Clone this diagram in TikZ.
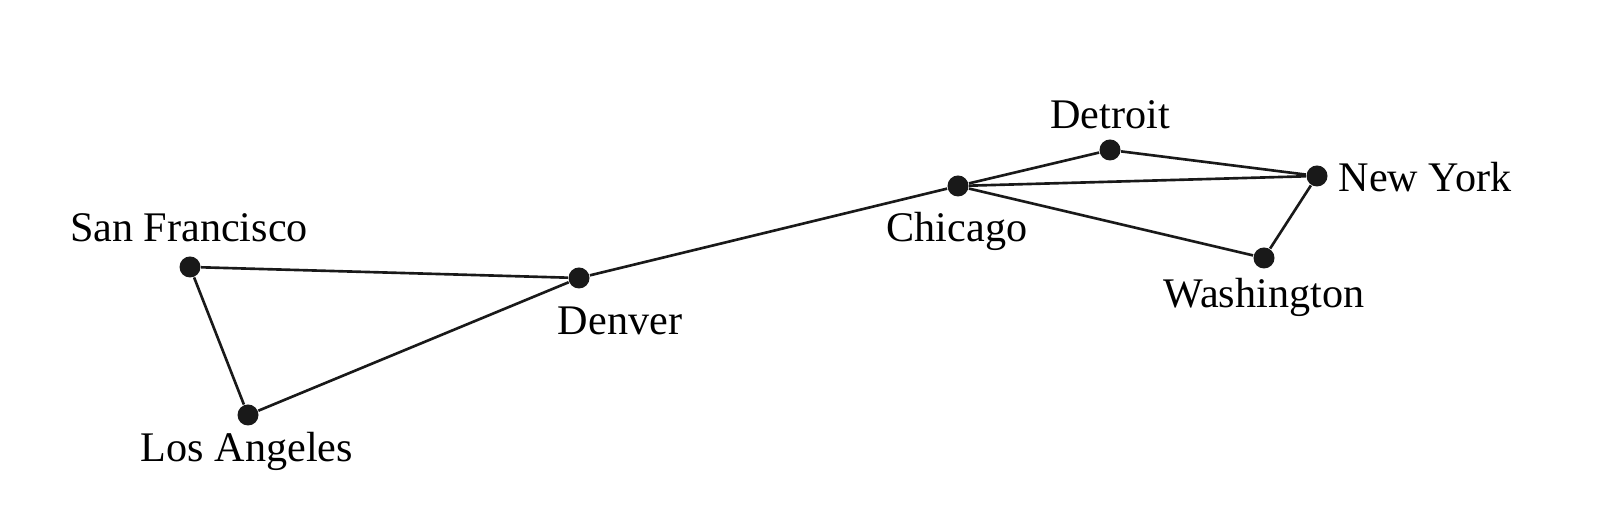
\documentclass[tikz,border=0pt]{standalone}
\usepackage{fontspec}
\setmainfont{Liberation Serif}
\begin{document}
\begin{tikzpicture}[
  city/.style={circle, fill=black!90, inner sep=0pt, minimum size=2.1mm},
  cityname/.style={anchor=base, font=\fontsize{12}{14}\selectfont},
  road/.style={line width=0.75pt, black!90}
]
\useasboundingbox (0,0) rectangle (16,5.12);
\node[city] (sf) at (1.90, 2.45) {};
\node[city] (la) at (2.48, 0.97) {};
\node[city] (den) at (5.79, 2.34) {};
\node[city] (chi) at (9.58, 3.26) {};
\node[city] (det) at (11.10, 3.62) {};
\node[city] (ny) at (13.17, 3.36) {};
\node[city] (wash) at (12.64, 2.54) {};

\node[cityname] (sfl) at (1.89, 2.70) {San Francisco};
\node[cityname] (lal) at (2.47, 0.50) {Los Angeles};
\node[cityname] (denl) at (6.20, 1.77) {Denver};
\node[cityname] (chil) at (9.57, 2.70) {Chicago};
\node[cityname] (detl) at (11.10, 3.83) {Detroit};
\node[cityname] (nyl) at (14.25, 3.20) {New York};
\node[cityname] (washl) at (12.64, 2.04) {Washington};

\draw[road] (sf) -- (la);
\draw[road] (sf) -- (den);
\draw[road] (la) -- (den);
\draw[road] (den) -- (chi);
\draw[road] (chi) -- (det);
\draw[road] (chi) -- (ny);
\draw[road] (chi) -- (wash);
\draw[road] (det) -- (ny);
\draw[road] (ny) -- (wash);
\end{tikzpicture}
\end{document}
